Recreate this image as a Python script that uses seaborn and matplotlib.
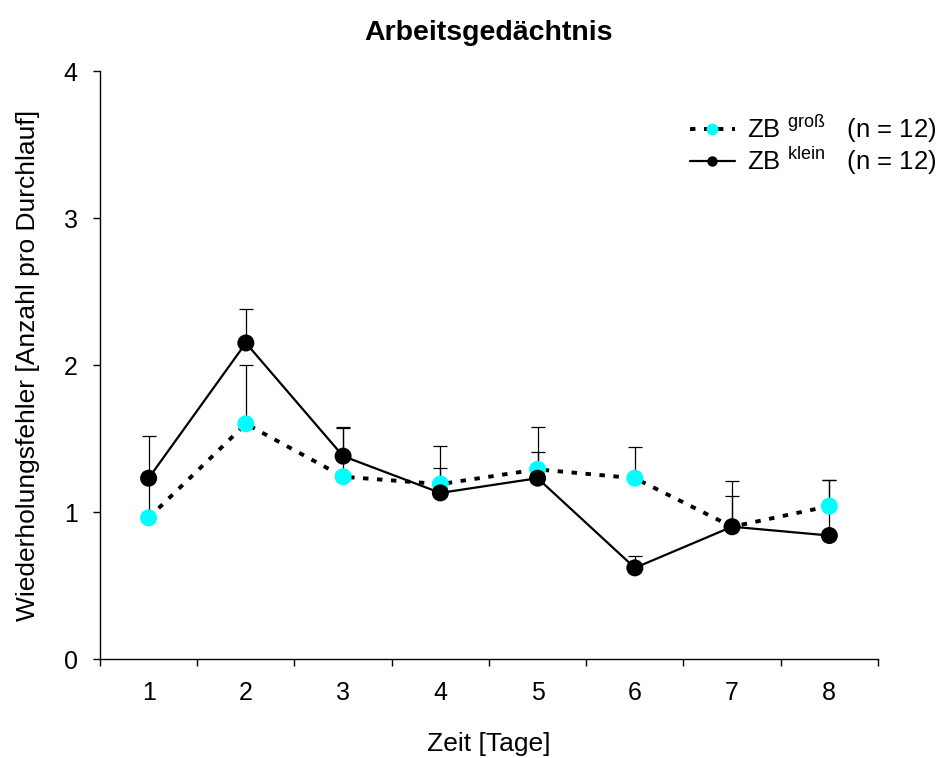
import numpy as np
import pandas as pd
import matplotlib
matplotlib.use("Agg")
import matplotlib.pyplot as plt
import seaborn as sns
from matplotlib.lines import Line2D

sns.set_style("white")
plt.rcParams['font.family'] = ['Liberation Sans', 'DejaVu Sans']
plt.rcParams['mathtext.fontset'] = 'custom'
plt.rcParams['mathtext.rm'] = 'Liberation Sans'
plt.rcParams['mathtext.it'] = 'Liberation Sans'
plt.rcParams['text.color'] = 'black'
plt.rcParams['axes.labelcolor'] = 'black'
plt.rcParams['xtick.color'] = 'black'
plt.rcParams['ytick.color'] = 'black'

days = [1, 2, 3, 4, 5, 6, 7, 8]
gross = [0.96, 1.60, 1.24, 1.19, 1.29, 1.23, 0.90, 1.04]
gross_err = [0.27, 0.40, 0.33, 0.11, 0.29, 0.21, 0.31, 0.18]
klein = [1.23, 2.15, 1.38, 1.13, 1.23, 0.62, 0.90, 0.84]
klein_err = [0.29, 0.23, 0.20, 0.32, 0.18, 0.08, 0.21, 0.38]

df_g = pd.DataFrame({"Tag": days, "Wert": gross})
df_k = pd.DataFrame({"Tag": days, "Wert": klein})

fig = plt.figure(figsize=(9.38, 7.58), dpi=100)
ax = fig.add_axes([0.1066, 0.1306, 0.8294, 0.7757])

# error bars (upper only)
ax.errorbar(days, gross, yerr=[np.zeros(len(days)), gross_err], fmt='none',
            ecolor='black', elinewidth=0.9, capsize=5, capthick=0.9, zorder=1)
ax.errorbar(days, klein, yerr=[np.zeros(len(days)), klein_err], fmt='none',
            ecolor='black', elinewidth=0.9, capsize=5, capthick=0.9, zorder=1)

sns.lineplot(data=df_g, x="Tag", y="Wert", ax=ax, color='black', linewidth=2.8,
             linestyle=(0, (1.4, 2.2)), zorder=2)
sns.scatterplot(data=df_g, x="Tag", y="Wert", ax=ax, color='#00FFFF', s=150,
                edgecolor='none', zorder=3)
sns.lineplot(data=df_k, x="Tag", y="Wert", ax=ax, color='black', linewidth=1.6, zorder=4)
sns.scatterplot(data=df_k, x="Tag", y="Wert", ax=ax, color='black', s=150,
                edgecolor='none', zorder=5)

ax.set_xlim(0.5, 8.5)
ax.set_ylim(0, 4)
ax.set_yticks([0, 1, 2, 3, 4])
ax.set_xticks(days)
ax.set_xticks(np.arange(0.5, 9.0, 1.0), minor=True)
ax.tick_params(axis='x', which='major', length=0, labelsize=18, pad=16)
ax.tick_params(axis='x', which='minor', length=5, width=1, direction='out', bottom=True)
ax.tick_params(axis='y', which='major', length=5, width=1, direction='out', left=True,
               labelsize=18, pad=11)

for s in ['top', 'right']:
    ax.spines[s].set_visible(False)
for s in ['left', 'bottom']:
    ax.spines[s].set_color('black')
    ax.spines[s].set_linewidth(1.0)

ax.set_xlabel("Zeit [Tage]", fontsize=19, labelpad=19)
ax.set_ylabel("Wiederholungsfehler [Anzahl pro Durchlauf]", fontsize=19, labelpad=17)
ax.set_title("Arbeitsgedächtnis", fontsize=20.5, fontweight='bold', pad=22)

handles = [
    Line2D([0], [0], color='black', linewidth=2.8, linestyle=(0, (1.4, 2.2)),
           marker='o', markerfacecolor='#00FFFF', markeredgecolor='none', markersize=8.5),
    Line2D([0], [0], color='black', linewidth=1.6, marker='o',
           markerfacecolor='black', markeredgecolor='none', markersize=7.5),
]
labels = [r'ZB $^{\mathrm{groß}}$   (n = 12)', r'ZB $^{\mathrm{klein}}$   (n = 12)']
fig.legend(handles, labels, loc='upper left', bbox_to_anchor=(0.7356, 0.851),
           frameon=False, fontsize=18.5, handlelength=1.75, handletextpad=0.45,
           labelspacing=0.0, borderpad=0, borderaxespad=0)

fig.savefig("out.png", dpi=100)
